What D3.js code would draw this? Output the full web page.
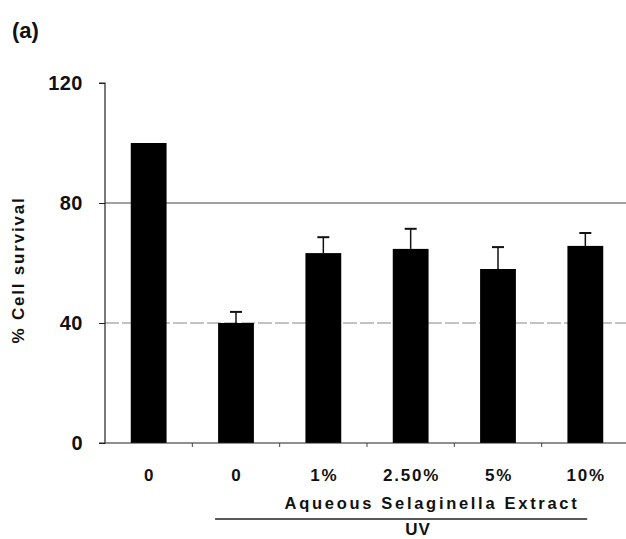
<!DOCTYPE html>
<html>
<head>
<meta charset="utf-8">
<script src="https://cdn.jsdelivr.net/npm/d3@7"></script>
<style>
body { margin: 0; background: #fff; }
svg { display: block; }
text { font-family: "Liberation Sans", Arial, sans-serif; font-weight: bold; fill: #111; }
</style>
</head>
<body>
<svg id="chart" width="626" height="539"></svg>
<script>
const categories = ["0", "0", "1%", "2.50%", "5%", "10%"];
const values = [100, 40, 63.3, 64.7, 58, 65.7];
const errors = [0, 3.7, 5.3, 6.7, 7.3, 4.3];
const yTicks = [0, 40, 80, 120];
const gridValues = [40, 80];

const svg = d3.select("#chart");
const x0 = 105, xEnd = 629, yTop = 83, yBase = 443;

const x = d3.scaleBand().domain(d3.range(categories.length)).range([x0, xEnd]).paddingInner(0.59).paddingOuter(0.295);
const y = d3.scaleLinear().domain([0, 120]).range([yBase, yTop]);

// gridlines
svg.selectAll("line.grid").data(gridValues).enter().append("line")
  .attr("x1", x0).attr("x2", 626)
  .attr("y1", d => y(d)).attr("y2", d => y(d))
  .attr("stroke", d => d === 80 ? "#444" : "#888")
  .attr("stroke-width", d => d === 80 ? 1 : 1.2)
  .attr("stroke-dasharray", d => d === 40 ? "14,3" : null);

// bars
svg.selectAll("rect.bar").data(values).enter().append("rect")
  .attr("x", (d, i) => x(i)).attr("width", x.bandwidth())
  .attr("y", d => y(d)).attr("height", d => yBase - y(d))
  .attr("fill", "#000");

// error bars
const eb = svg.selectAll("g.err").data(values.map((v, i) => ({v, e: errors[i], i})).filter(d => d.e > 0))
  .enter().append("g");
eb.append("line")
  .attr("x1", d => x(d.i) + x.bandwidth() / 2).attr("x2", d => x(d.i) + x.bandwidth() / 2)
  .attr("y1", d => y(d.v)).attr("y2", d => y(d.v + d.e))
  .attr("stroke", "#111").attr("stroke-width", 1.5);
eb.append("line")
  .attr("x1", d => x(d.i) + x.bandwidth() / 2 - 6).attr("x2", d => x(d.i) + x.bandwidth() / 2 + 6)
  .attr("y1", d => y(d.v + d.e)).attr("y2", d => y(d.v + d.e))
  .attr("stroke", "#111").attr("stroke-width", 2);

// y axis
const yAxis = d3.axisLeft(y).tickValues(yTicks).tickSize(6).tickPadding(16);
const gy = svg.append("g").attr("transform", `translate(${x0},0)`).call(yAxis);
gy.select(".domain").attr("stroke", "#222").attr("stroke-width", 1.2).attr("d", `M-6,${yBase}H0V${yTop}H-6`);
gy.selectAll(".tick line").attr("stroke", "#222");
gy.selectAll(".tick text").style("font-size", "20px").style("letter-spacing", "0.5px").attr("fill", "#111");

// x axis
const gx = svg.append("g").attr("transform", `translate(0,${yBase})`);
gx.append("line").attr("x1", x0).attr("x2", 626).attr("y1", 0).attr("y2", 0).attr("stroke", "#222").attr("stroke-width", 1.2);
const step = x.step();
gx.selectAll("line.xt").data(d3.range(1, categories.length)).enter().append("line")
  .attr("x1", i => x(i) - (step - x.bandwidth()) / 2).attr("x2", i => x(i) - (step - x.bandwidth()) / 2)
  .attr("y1", 0).attr("y2", 4).attr("stroke", "#444");
gx.selectAll("text.xl").data(categories).enter().append("text")
  .attr("x", (d, i) => x(i) + x.bandwidth() / 2 + 1).attr("y", 38)
  .attr("text-anchor", "middle").style("font-size", "17px").style("letter-spacing", "1.8px")
  .text(d => d);

// group labels
svg.append("text").attr("x", 432).attr("y", 509).attr("text-anchor", "middle")
  .style("font-size", "16.5px").style("letter-spacing", "2.7px").text("Aqueous Selaginella Extract");
svg.append("line").attr("x1", x(1) - 3).attr("x2", x(5) + x.bandwidth() - 16).attr("y1", 519).attr("y2", 519)
  .attr("stroke", "#222").attr("stroke-width", 1.5);
svg.append("text").attr("x", 418).attr("y", 535).attr("text-anchor", "middle")
  .style("font-size", "17px").style("letter-spacing", "1px").text("UV");

// y title
svg.append("text").attr("transform", "translate(24,270) rotate(-90)").attr("text-anchor", "middle")
  .style("font-size", "17px").style("letter-spacing", "1.8px").text("% Cell survival");

// panel label
svg.append("text").attr("x", 12).attr("y", 38).style("font-size", "22px").text("(a)");
</script>
</body>
</html>
